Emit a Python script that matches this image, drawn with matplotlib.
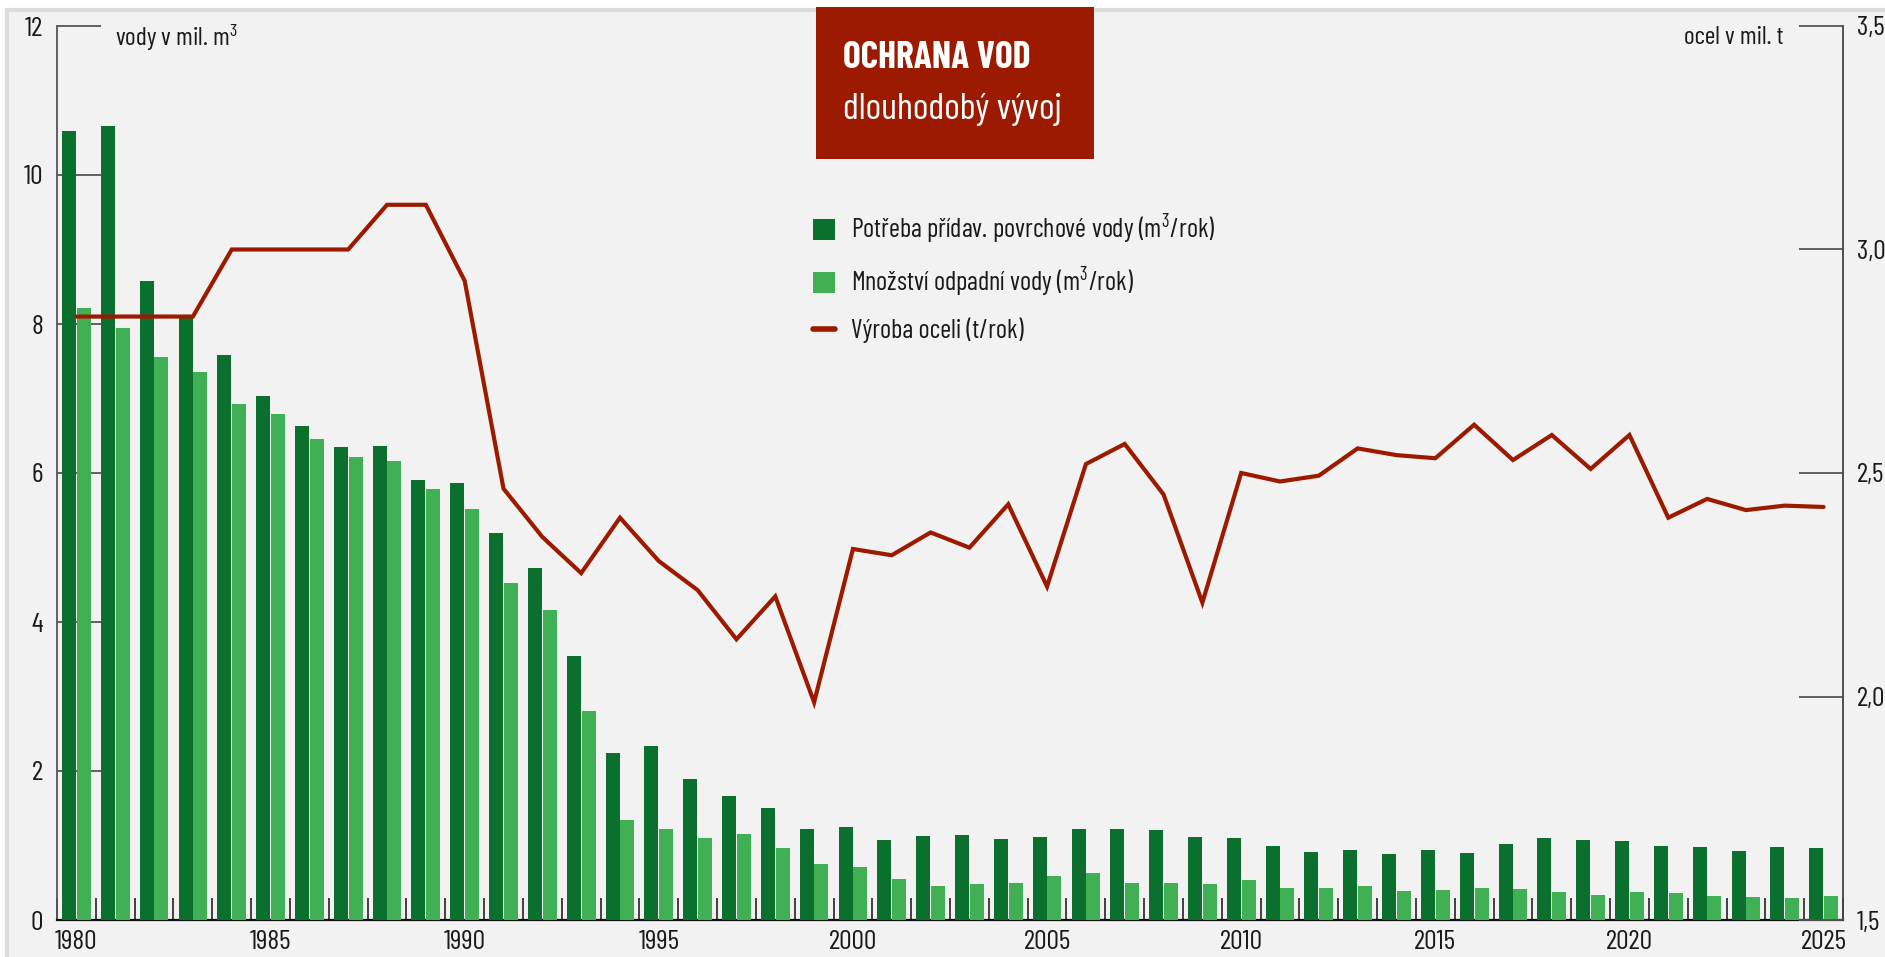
import matplotlib
matplotlib.use('Agg')
import matplotlib.pyplot as plt
from matplotlib.patches import Rectangle, Patch
from matplotlib.lines import Line2D
import numpy as np

# data
years = list(range(1980, 2026))
potreba = [10.59, 10.66, 8.58, 8.10, 7.59, 7.03, 6.63, 6.35, 6.36, 5.91, 5.87, 5.19, 4.73,
           3.54, 2.24, 2.34, 1.89, 1.66, 1.50, 1.22, 1.25, 1.07, 1.13, 1.14, 1.09, 1.11,
           1.22, 1.22, 1.21, 1.11, 1.10,
           0.99, 0.91, 0.94, 0.89, 0.94, 0.90, 1.02, 1.10, 1.07, 1.06, 0.99, 0.98, 0.93,
           0.98, 0.97]
odpadni = [8.22, 7.94, 7.56, 7.36, 6.93, 6.79, 6.45, 6.21, 6.16, 5.78, 5.52, 4.53, 4.16,
           2.81, 1.34, 1.22, 1.10, 1.15, 0.97, 0.75, 0.71, 0.55, 0.46, 0.48, 0.50, 0.59,
           0.63, 0.50, 0.50, 0.48, 0.54,
           0.43, 0.43, 0.46, 0.39, 0.40, 0.43, 0.42, 0.38, 0.34, 0.38, 0.36, 0.32, 0.31,
           0.30, 0.32]
ocel = [2.85, 2.85, 2.85, 2.85, 3.0, 3.0, 3.0, 3.0, 3.1, 3.1, 2.93, 2.465, 2.357,
        2.276, 2.40, 2.303, 2.238, 2.128, 2.224, 1.987, 2.330, 2.316, 2.367, 2.333, 2.430,
        2.246, 2.52, 2.565, 2.452, 2.210, 2.500,
        2.481, 2.494, 2.555, 2.540, 2.533, 2.608, 2.529, 2.585, 2.509, 2.585, 2.400,
        2.442, 2.417, 2.427, 2.424]
left_ticks = [0, 2, 4, 6, 8, 10, 12]
right_ticks = [1.5, 2.0, 2.5, 3.0, 3.5]
year_labels = [1980, 1985, 1990, 1995, 2000, 2005, 2010, 2015, 2020, 2025]

DARK = '#0b702e'
LIGHT = '#41b055'
RED = '#9c1b00'
TXT = '#1a1a1a'

plt.rcParams['font.family'] = ['Barlow Condensed', 'DejaVu Sans']
plt.rcParams['mathtext.fontset'] = 'custom'
plt.rcParams['mathtext.rm'] = 'Barlow Condensed'
plt.rcParams['mathtext.default'] = 'rm'

W, H = 1885, 957
fig = plt.figure(figsize=(W / 100, H / 100), dpi=100, facecolor='white')


def fx(px):
    return px / W


def fy(py):
    return 1 - py / H


# grey panel behind everything
fig.patches.append(Rectangle((fx(7), -0.01), 1, fy(10) + 0.01, transform=fig.transFigure,
                             facecolor='#f2f2f2', edgecolor='#dcdcdc', linewidth=3, zorder=-5))

ax = fig.add_axes([fx(57), fy(920), fx(1843) - fx(57), fy(26) - fy(920)])
ax.set_facecolor('none')
x = np.array(years)
ax.bar(x - 0.19, potreba, width=0.36, color=DARK, zorder=3)
ax.bar(x + 0.19, odpadni, width=0.36, color=LIGHT, zorder=3)
ax.set_xlim(1979.5, 2025.5)
ax.set_ylim(0, 12)

ax.set_yticks(left_ticks)
ax.tick_params(axis='y', direction='in', length=32, width=1.3, color='#555555',
               labelsize=20, labelcolor=TXT, pad=10)
ax.set_xticks(year_labels)
ax.set_xticks(np.arange(1979.5, 2026, 1), minor=True)
ax.tick_params(axis='x', which='major', length=0, labelsize=20, labelcolor=TXT, pad=7)
ax.tick_params(axis='x', which='minor', direction='in', length=16, width=1.3, color='#333333')
for s in ['top', 'right']:
    ax.spines[s].set_visible(False)
ax.spines['left'].set_color('#555555')
ax.spines['left'].set_linewidth(1.3)
ax.spines['bottom'].set_color('#111111')
ax.spines['bottom'].set_linewidth(1.6)

ax2 = ax.twinx()
ax2.plot(x, ocel, color=RED, linewidth=3, solid_capstyle='round', solid_joinstyle='miter', zorder=4)
ax2.set_ylim(1.5, 3.5)
ax2.set_yticks(right_ticks)
ax2.set_yticklabels([f"{v:.1f}".replace('.', ',') for v in right_ticks])
ax2.tick_params(axis='y', direction='in', length=32, width=1.3, color='#555555',
                labelsize=20, labelcolor=TXT, pad=10)
for s in ['top', 'left', 'bottom']:
    ax2.spines[s].set_visible(False)
ax2.spines['right'].set_color('#444444')
ax2.spines['right'].set_linewidth(1.3)

fig.text(fx(115), fy(38), 'vody v mil. m$^3$', fontsize=18.5, color=TXT, va='center', ha='left')
fig.text(fx(1783), fy(38), 'ocel v mil. t', fontsize=18.5, color=TXT, va='center', ha='right')

# title box
fig.patches.append(Rectangle((fx(816), fy(159)), fx(1094) - fx(816), fy(7) - fy(159),
                             transform=fig.transFigure, facecolor=RED, edgecolor='none', zorder=5))
fig.text(fx(843), fy(58), 'OCHRANA VOD', fontsize=27, fontweight='bold', color='white',
         va='center', ha='left', zorder=6)
fig.text(fx(843), fy(110), 'dlouhodobý vývoj', fontsize=27, fontweight='normal', color='white',
         va='center', ha='left', zorder=6)

handles = [Patch(facecolor=DARK, edgecolor='none'),
           Patch(facecolor=LIGHT, edgecolor='none'),
           Line2D([0], [0], color=RED, linewidth=4, solid_capstyle='round')]
labels = ['Potřeba přídav. povrchové vody (m$^3$/rok)',
          'Množství odpadní vody (m$^3$/rok)',
          'Výroba oceli (t/rok)']
fig.legend(handles, labels, loc='upper left', bbox_to_anchor=(fx(813), fy(213)),
           frameon=False, fontsize=19, labelcolor=TXT, handlelength=0.85, handleheight=0.85,
           handletextpad=0.6, labelspacing=0.72, borderpad=0, borderaxespad=0)

fig.savefig('out.png', dpi=100, facecolor='white')
